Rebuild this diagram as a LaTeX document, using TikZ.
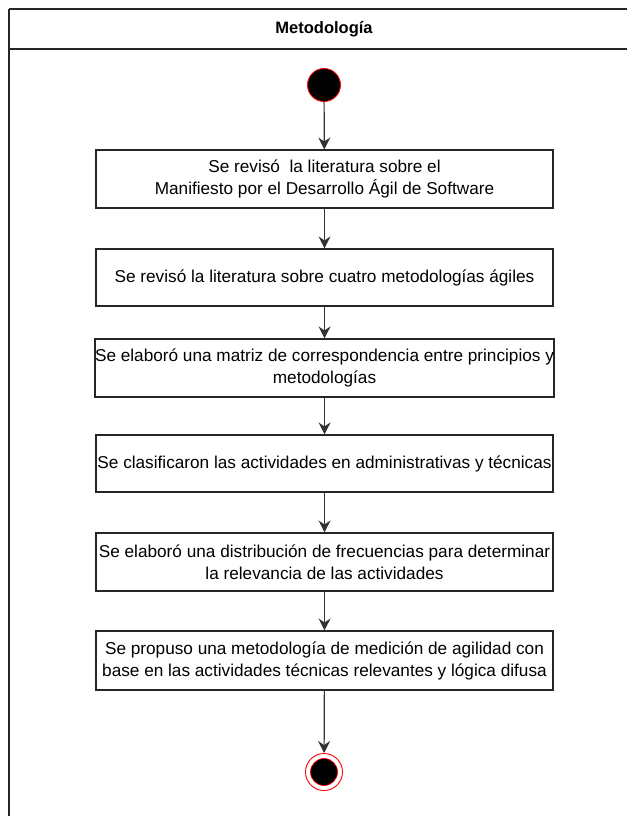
\documentclass[tikz,border=0pt]{standalone}
\usepackage{fontspec}
\setmainfont{Liberation Sans}
\usetikzlibrary{arrows.meta}
\definecolor{rd}{HTML}{FF0000}
\begin{document}
\begin{tikzpicture}[x=1pt,y=-1pt,
  actbox/.style={draw=black!85,line width=1.1pt,minimum width=457pt,inner sep=0pt,align=center,font=\fontsize{17.2}{22}\selectfont},
  flow/.style={draw=black!80,line width=1.2pt,-{Stealth[length=12pt,width=12pt,inset=4pt]}},
  frameline/.style={draw=black!85,line width=1.5pt}]
\useasboundingbox (0,0) rectangle (627,816);
\fill[white] (0,0) rectangle (627,816);
% frame
\draw[frameline] (9,9) -- (627,9);
\draw[frameline] (9,49) -- (627,49);
\draw[frameline] (9,9) -- (9,816);
\node[font=\bfseries\fontsize{16.5}{18}\selectfont] (title) at (324,29) {Metodología};
% start
\node[circle,fill=black,draw=rd,line width=0.8pt,minimum size=33pt,inner sep=0pt] (start) at (324,85) {};
% boxes
\node[actbox,minimum height=58pt] (b1) at (324.5,179) {Se revisó\ \ la literatura sobre el\\Manifiesto por el Desarrollo Ágil de Software};
\node[actbox,minimum height=57pt] (b2) at (324.5,277.5) {Se revisó la literatura sobre cuatro metodologías ágiles};
\node[actbox,minimum height=58pt] (b3) at (324.5,368) {Se elaboró una matriz de correspondencia entre principios y\\metodologías};
\node[actbox,minimum height=57pt] (b4) at (324.5,463.5) {Se clasificaron las actividades en administrativas y técnicas};
\node[actbox,minimum height=58pt] (b5) at (324.5,562) {Se elaboró una distribución de frecuencias para determinar\\la relevancia de las actividades};
\node[actbox,minimum height=59pt] (b6) at (324.5,660.5) {Se propuso una metodología de medición de agilidad con\\base en las actividades técnicas relevantes y lógica difusa};
% end
\node[circle,fill=white,draw=rd,line width=0.9pt,minimum size=37pt,inner sep=0pt] (end) at (324,772) {};
\node[circle,fill=black,draw=rd,line width=0.7pt,minimum size=27pt,inner sep=0pt] (endin) at (324,772) {};
% connectors
\draw[flow] (start) -- (b1);
\draw[flow] (b1) -- (b2);
\draw[flow] (b2) -- (b3);
\draw[flow] (b3) -- (b4);
\draw[flow] (b4) -- (b5);
\draw[flow] (b5) -- (b6);
\draw[flow] (b6) -- (end);
\end{tikzpicture}
\end{document}
